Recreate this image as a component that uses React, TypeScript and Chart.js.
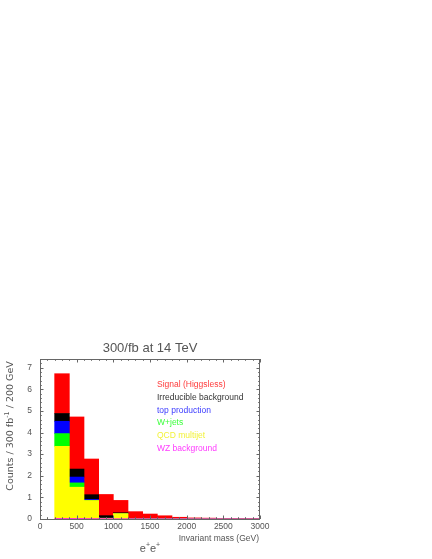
import { useEffect, useRef } from 'react';
import { Chart, registerables } from 'chart.js';

Chart.register(...registerables);

const binCenters = [300, 500, 700, 900, 1100, 1300, 1500, 1700, 1900, 2100, 2300, 2500, 2700, 2900];
const wzBackground = [0.02, 0.02, 0.015, 0.015, 0.01, 0.01, 0.01, 0.01, 0.01, 0.01, 0.01, 0.01, 0.01, 0.01];
const qcdMultijet = [3.34, 1.45, 0.84, 0.02, 0.24, 0, 0, 0, 0, 0, 0, 0, 0, 0];
const wJets = [0.59, 0.2, 0.01, 0, 0, 0, 0, 0, 0, 0, 0, 0, 0, 0];
const topProduction = [0.57, 0.27, 0.04, 0, 0, 0, 0, 0, 0, 0, 0, 0, 0, 0];
const irreducible = [0.36, 0.37, 0.22, 0.12, 0.04, 0, 0, 0, 0, 0, 0, 0, 0, 0];
const signal = [1.84, 2.41, 1.65, 0.98, 0.57, 0.33, 0.22, 0.14, 0.07, 0.04, 0.03, 0.02, 0.02, 0.01];

const xTickValues = [0, 500, 1000, 1500, 2000, 2500, 3000];
const yTickValues = [0, 1, 2, 3, 4, 5, 6, 7];

const legendLabels = [
  'Signal (Higgsless)',
  'Irreducible background',
  'top production',
  'W+jets',
  'QCD multijet',
  'WZ background',
];
const legendColors = ['#ff3b3b', '#333333', '#3b3bff', '#3bff3b', '#f2f23a', '#ff3bff'];

const FONT = '"Liberation Sans", Arial, sans-serif';
const WIDE = '"DejaVu Sans", sans-serif';
const GRAY = '#666666';

const toPoints = (arr: number[]) => arr.map((y, i) => ({ x: binCenters[i], y }));

const decorPlugin = {
  id: 'decor',
  afterDatasetsDraw(chart: any) {
    const { ctx, chartArea, scales } = chart;
    const xs = scales.x;
    const ys = scales.y;
    const { left, right, top, bottom } = chartArea;
    ctx.save();
    // frame
    ctx.strokeStyle = GRAY;
    ctx.lineWidth = 1;
    ctx.strokeRect(left + 0.5, top + 0.5, right - left - 1, bottom - top);
    // y ticks (inward, both sides)
    ctx.beginPath();
    for (let i = 0; i <= 37; i++) {
      const v = i * 0.2;
      if (v > ys.max + 1e-9) break;
      const py = Math.round(ys.getPixelForValue(v)) + 0.5;
      const major = Math.abs(v - Math.round(v)) < 1e-6;
      const len = major ? 3.5 : 1.8;
      ctx.moveTo(left, py);
      ctx.lineTo(left + len, py);
      ctx.moveTo(right, py);
      ctx.lineTo(right - len, py);
    }
    // x ticks (inward, top and bottom)
    for (let v = 0; v <= 3000; v += 100) {
      const px = Math.round(xs.getPixelForValue(v)) + 0.5;
      const major = v % 500 === 0;
      const len = major ? 3.5 : 1.8;
      ctx.moveTo(px, bottom);
      ctx.lineTo(px, bottom - len);
      ctx.moveTo(px, top);
      ctx.lineTo(px, top + len);
    }
    ctx.stroke();

    // title
    ctx.fillStyle = '#555555';
    ctx.font = `13px ${FONT}`;
    ctx.textAlign = 'center';
    ctx.textBaseline = 'alphabetic';
    ctx.fillText('300/fb at 14 TeV', (left + right) / 2, top - 7.5);

    // x title
    ctx.font = `8.5px ${FONT}`;
    ctx.textAlign = 'right';
    ctx.fillStyle = '#555555';
    ctx.fillText('Invariant mass (GeV)', right - 1, bottom + 21.5);

    // e+e+
    const cx = (left + right) / 2;
    const by = bottom + 33;
    ctx.textAlign = 'left';
    const eFont = `11px ${FONT}`;
    const pFont = `7px ${FONT}`;
    ctx.font = eFont;
    const ew = ctx.measureText('e').width;
    ctx.font = pFont;
    const pw = ctx.measureText('+').width;
    let x0 = cx - (2 * ew + 2 * pw) / 2;
    for (let k = 0; k < 2; k++) {
      ctx.font = eFont;
      ctx.fillText('e', x0, by);
      x0 += ew;
      ctx.font = pFont;
      ctx.fillText('+', x0, by - 5);
      x0 += pw;
    }

    // y title (rotated)
    ctx.save();
    ctx.translate(12.5, (top + bottom) / 2 - 13);
    ctx.rotate(-Math.PI / 2);
    const mainFont = `9.5px ${WIDE}`;
    const supFont = `6.5px ${WIDE}`;
    const parts: [string, boolean][] = [
      ['Counts / 300 fb', false],
      ['-1', true],
      [' / 200 GeV', false],
    ];
    let total = 0;
    for (const [t, sup] of parts) {
      ctx.font = sup ? supFont : mainFont;
      total += ctx.measureText(t).width;
    }
    let tx = -total / 2;
    ctx.textAlign = 'left';
    for (const [t, sup] of parts) {
      ctx.font = sup ? supFont : mainFont;
      ctx.fillText(t, tx, sup ? -4 : 0);
      tx += ctx.measureText(t).width;
    }
    ctx.restore();

    // legend (text only)
    ctx.font = `8.5px ${FONT}`;
    ctx.textAlign = 'left';
    legendLabels.forEach((label, i) => {
      ctx.fillStyle = legendColors[i];
      ctx.fillText(label, left + 117, top + 28 + i * 12.8);
    });
    ctx.restore();
  },
};

export default function App() {
  const canvasRef = useRef<HTMLCanvasElement | null>(null);

  useEffect(() => {
    if (!canvasRef.current) return;
    const mk = (label: string, data: number[], color: string) => ({
      label,
      data: toPoints(data),
      backgroundColor: color,
      borderWidth: 0,
      barPercentage: 1,
      categoryPercentage: 1,
    });
    const chart = new Chart(canvasRef.current, {
      type: 'bar',
      data: {
        datasets: [
          mk('WZ background', wzBackground, '#ff00ff'),
          mk('QCD multijet', qcdMultijet, '#ffff00'),
          mk('W+jets', wJets, '#00ff00'),
          mk('top production', topProduction, '#0000ff'),
          mk('Irreducible background', irreducible, '#000000'),
          mk('Signal (Higgsless)', signal, '#ff0000'),
        ] as any,
      },
      options: {
        animation: false,
        responsive: true,
        maintainAspectRatio: false,
        layout: { padding: { left: 0, right: 172, top: 359, bottom: 0 } },
        plugins: {
          legend: { display: false },
          tooltip: { enabled: false },
          title: { display: false },
        },
        scales: {
          x: {
            type: 'linear',
            stacked: true,
            min: 0,
            max: 3000,
            offset: false,
            grid: { display: false, drawTicks: false, offset: false },
            border: { display: false },
            afterBuildTicks: (scale: any) => {
              scale.ticks = xTickValues.map((v) => ({ value: v }));
            },
            afterFit: (scale: any) => {
              scale.height = 40;
            },
            ticks: {
              color: '#555555',
              font: { family: FONT, size: 8.5 },
              padding: 3,
              maxRotation: 0,
              autoSkip: false,
              callback: (v: any) => String(v),
            },
          },
          y: {
            stacked: true,
            min: 0,
            max: 7.4,
            grid: { display: false, drawTicks: false },
            border: { display: false },
            afterBuildTicks: (scale: any) => {
              scale.ticks = yTickValues.map((v) => ({ value: v }));
            },
            afterFit: (scale: any) => {
              scale.width = 40;
            },
            ticks: {
              color: '#555555',
              font: { family: FONT, size: 8.5 },
              padding: 8,
              callback: (v: any) => String(v),
            },
          },
        },
      },
      plugins: [decorPlugin],
    } as any);
    return () => chart.destroy();
  }, []);

  return (
    <div style={{ position: 'fixed', left: 0, top: 0, width: 432, height: 559, background: '#ffffff' }}>
      <canvas ref={canvasRef} />
    </div>
  );
}
